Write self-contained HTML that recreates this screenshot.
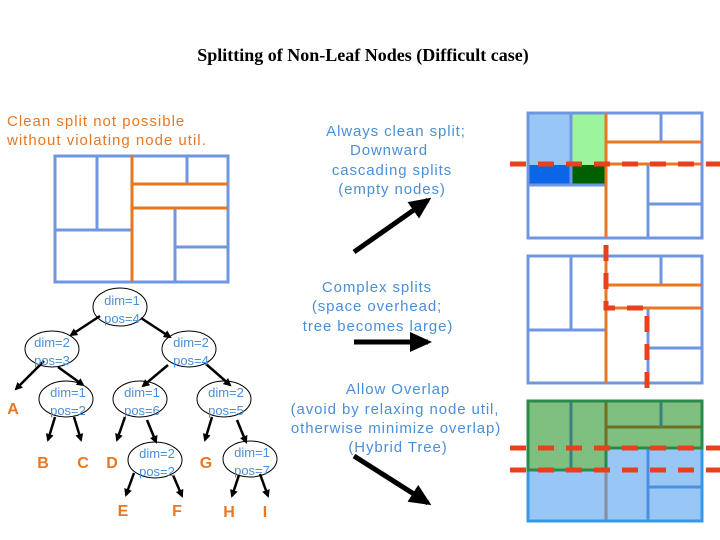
<!DOCTYPE html>
<html><head><meta charset="utf-8"><style>
html,body{margin:0;padding:0;background:#fff;width:720px;height:540px;overflow:hidden}
svg{display:block}
.t{font-family:"Liberation Sans",sans-serif;font-size:15px;letter-spacing:0.9px;fill:#4a8fd8}
.o{font-family:"Liberation Sans",sans-serif;font-size:15px;letter-spacing:1px;fill:#e87722}
.L{font-family:"Liberation Sans",sans-serif;font-size:16px;font-weight:bold;fill:#e87722}
.n{font-family:"Liberation Sans",sans-serif;font-size:13px;fill:#4a8fd8}
</style></head><body>
<svg width="720" height="540" viewBox="0 0 720 540">
<defs>
<marker id="a" markerWidth="8" markerHeight="8" refX="6" refY="4" orient="auto" markerUnits="userSpaceOnUse"><path d="M0,0 L8,4 L0,8 Z" fill="#000"/></marker>
<marker id="b" markerWidth="22" markerHeight="20" refX="18" refY="10" orient="auto" markerUnits="userSpaceOnUse"><path d="M0,0 L22,10 L0,20 Z" fill="#000"/></marker>
</defs>
<text x="363" y="61" text-anchor="middle" font-family="Liberation Serif,serif" font-size="18" font-weight="bold">Splitting of Non-Leaf Nodes (Difficult case)</text>
<text class="o" x="7" y="126">Clean split not possible</text>
<text class="o" x="7" y="145">without violating  node util.</text>

<!-- left box -->
<g stroke-width="3" fill="none">
<rect x="55" y="156" width="173" height="126" stroke="#6f96e0"/>
<line x1="97" y1="156" x2="97" y2="230" stroke="#6f96e0"/>
<line x1="55" y1="230" x2="132" y2="230" stroke="#6f96e0"/>
<line x1="187" y1="156" x2="187" y2="184" stroke="#6f96e0"/>
<line x1="175" y1="208" x2="175" y2="282" stroke="#6f96e0"/>
<line x1="175" y1="247" x2="228" y2="247" stroke="#6f96e0"/>
<line x1="132" y1="156" x2="132" y2="282" stroke="#e87722"/>
<line x1="132" y1="184" x2="228" y2="184" stroke="#e87722"/>
<line x1="132" y1="208" x2="228" y2="208" stroke="#e87722"/>
</g>

<!-- tree edges -->
<g stroke="#000" stroke-width="2.5" marker-end="url(#a)">
<line x1="100" y1="316" x2="71" y2="335"/>
<line x1="141" y1="318" x2="170" y2="337"/>
<line x1="44" y1="361" x2="16" y2="389"/>
<line x1="58" y1="367" x2="83" y2="385"/>
<line x1="168" y1="365" x2="143" y2="386"/>
<line x1="206" y1="364" x2="230" y2="385"/>
<line x1="55" y1="417" x2="48" y2="440"/>
<line x1="74" y1="417" x2="81" y2="440"/>
<line x1="125" y1="417" x2="117" y2="440"/>
<line x1="147" y1="420" x2="156" y2="442"/>
<line x1="212" y1="417" x2="205" y2="440"/>
<line x1="237" y1="420" x2="246" y2="442"/>
<line x1="134" y1="473" x2="126" y2="495"/>
<line x1="173" y1="475" x2="182" y2="496"/>
<line x1="239" y1="475" x2="232" y2="496"/>
<line x1="260" y1="474" x2="268" y2="496"/>
</g>
<!-- ellipses -->
<g fill="none" stroke="#000" stroke-width="1">
<ellipse cx="120" cy="307" rx="27" ry="19"/>
<ellipse cx="52" cy="349" rx="27" ry="18"/>
<ellipse cx="189" cy="349" rx="27" ry="18"/>
<ellipse cx="66" cy="399" rx="27" ry="18"/>
<ellipse cx="140" cy="399" rx="27" ry="18"/>
<ellipse cx="224" cy="399" rx="27" ry="18"/>
<ellipse cx="155" cy="460" rx="27" ry="18"/>
<ellipse cx="250" cy="459" rx="27" ry="18"/>
</g>
<g class="n" text-anchor="middle">
<text x="122" y="305">dim=1</text><text x="122" y="323">pos=4</text>
<text x="52" y="347">dim=2</text><text x="52" y="365">pos=3</text>
<text x="191" y="347">dim=2</text><text x="191" y="365">pos=4</text>
<text x="68" y="397">dim=1</text><text x="68" y="415">pos=2</text>
<text x="142" y="397">dim=1</text><text x="142" y="415">pos=6</text>
<text x="226" y="397">dim=2</text><text x="226" y="415">pos=5</text>
<text x="157" y="458">dim=2</text><text x="157" y="476">pos=2</text>
<text x="252" y="457">dim=1</text><text x="252" y="475">pos=7</text>
</g>
<g class="L" text-anchor="middle">
<text x="13" y="414">A</text>
<text x="43" y="468">B</text>
<text x="83" y="468">C</text>
<text x="112" y="468">D</text>
<text x="206" y="468">G</text>
<text x="123" y="516">E</text>
<text x="177" y="516">F</text>
<text x="229" y="517">H</text>
<text x="265" y="517">I</text>
</g>

<!-- middle text -->
<g class="t" text-anchor="middle">
<text x="396" y="136">Always clean split;</text>
<text x="389" y="155">Downward</text>
<text x="392" y="175">cascading splits</text>
<text x="392" y="194">(empty nodes)</text>
<text x="377" y="292">Complex splits</text>
<text x="377" y="311">(space overhead;</text>
<text x="378" y="331">tree becomes large)</text>
<text x="398" y="394">Allow Overlap</text>
<text x="395" y="414">(avoid by relaxing node util,</text>
<text x="396" y="433">otherwise minimize overlap)</text>
<text x="398" y="452">(Hybrid Tree)</text>
</g>
<g stroke="#000" stroke-width="5" marker-end="url(#b)">
<line x1="354" y1="252" x2="428" y2="200"/>
<line x1="354" y1="342" x2="428" y2="342"/>
<line x1="354" y1="456" x2="428" y2="503"/>
</g>

<!-- right box 1 -->
<rect x="528" y="113" width="43" height="52" fill="#99c7f5"/>
<rect x="528" y="165" width="43" height="20" fill="#0a66e6"/>
<rect x="571" y="113" width="35" height="52" fill="#9cf59c"/>
<rect x="571" y="165" width="35" height="20" fill="#006000"/>
<g stroke-width="3" fill="none">
<rect x="528" y="113" width="174" height="125" stroke="#6f96e0"/>
<line x1="571" y1="113" x2="571" y2="185" stroke="#6f96e0"/>
<line x1="528" y1="185" x2="606" y2="185" stroke="#6f96e0"/>
<line x1="661" y1="113" x2="661" y2="142" stroke="#6f96e0"/>
<line x1="648" y1="164" x2="648" y2="238" stroke="#6f96e0"/>
<line x1="648" y1="204" x2="702" y2="204" stroke="#6f96e0"/>
<line x1="606" y1="113" x2="606" y2="238" stroke="#e87722"/>
<line x1="606" y1="142" x2="702" y2="142" stroke="#e87722"/>
<line x1="606" y1="164" x2="702" y2="164" stroke="#e87722"/>
</g>
<line x1="510" y1="164" x2="720" y2="164" stroke="#e8401c" stroke-width="5" stroke-dasharray="16,12"/>

<!-- right box 2 -->
<g stroke-width="3" fill="none">
<rect x="528" y="256" width="174" height="127" stroke="#6f96e0"/>
<line x1="571" y1="256" x2="571" y2="330" stroke="#6f96e0"/>
<line x1="528" y1="330" x2="606" y2="330" stroke="#6f96e0"/>
<line x1="661" y1="256" x2="661" y2="285" stroke="#6f96e0"/>
<line x1="648" y1="308" x2="648" y2="383" stroke="#6f96e0"/>
<line x1="648" y1="348" x2="702" y2="348" stroke="#6f96e0"/>
<line x1="606" y1="256" x2="606" y2="383" stroke="#e87722"/>
<line x1="606" y1="285" x2="702" y2="285" stroke="#e87722"/>
<line x1="606" y1="308" x2="702" y2="308" stroke="#e87722"/>
</g>
<polyline points="606,245 606,308 647,308 647,388" fill="none" stroke="#e8401c" stroke-width="5" stroke-dasharray="16,12"/>

<!-- right box 3 -->
<rect x="528" y="401" width="174" height="120" fill="#99c7f5"/>
<rect x="528" y="401" width="174" height="47" fill="#7fbf7f"/>
<rect x="528" y="448" width="78" height="22" fill="#7fbf7f"/>
<g stroke-width="3" fill="none">
<line x1="571" y1="401" x2="571" y2="470" stroke="#3a8080"/>
<line x1="606" y1="401" x2="606" y2="448" stroke="#707020"/>
<line x1="606" y1="448" x2="606" y2="521" stroke="#8a8aa0"/>
<line x1="606" y1="427" x2="702" y2="427" stroke="#707020"/>
<line x1="661" y1="401" x2="661" y2="427" stroke="#3a8080"/>
<line x1="648" y1="448" x2="648" y2="521" stroke="#4a90e0"/>
<line x1="648" y1="487" x2="702" y2="487" stroke="#4a90e0"/>
<rect x="528" y="401" width="174" height="120" stroke="#3399ee"/>
<path d="M528,470 H606 V448 H702 V401 H528 Z" stroke="#2a8a4a"/>
</g>
<line x1="510" y1="448" x2="720" y2="448" stroke="#e8401c" stroke-width="5" stroke-dasharray="16,12"/>
<line x1="510" y1="470" x2="720" y2="470" stroke="#e8401c" stroke-width="5" stroke-dasharray="16,12"/>
</svg>
</body></html>
